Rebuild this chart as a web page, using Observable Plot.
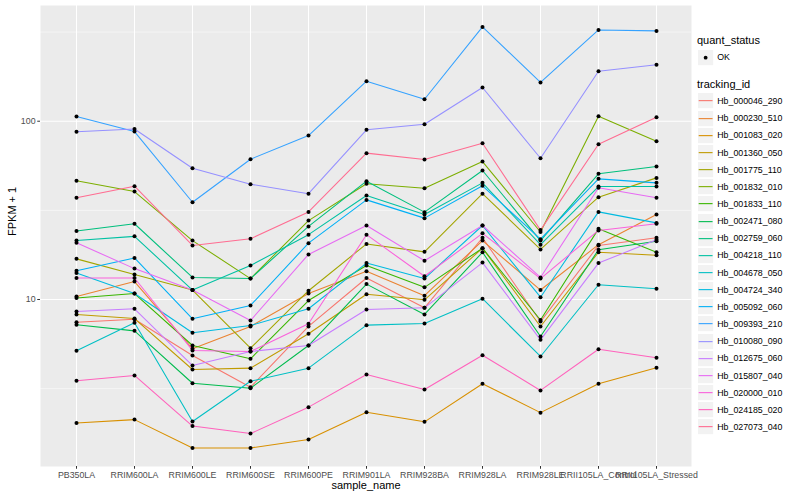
<!DOCTYPE html>
<html>
<head>
<meta charset="utf-8">
<script src="https://cdn.jsdelivr.net/npm/d3@7"></script>
<script src="https://cdn.jsdelivr.net/npm/@observablehq/plot@0.6"></script>
<style>
  body { margin: 0; background: #fff; font-family: "Liberation Sans", Arial, Helvetica, sans-serif; }
  #wrap { position: relative; width: 800px; height: 500px; overflow: hidden; }
  #legend { position: absolute; left: 0; top: 0; width: 800px; height: 500px; pointer-events: none; }
  .ltitle { position: absolute; left: 697px; font-size: 11px; line-height: 11px; color: #000; white-space: nowrap; }
  .key { position: absolute; left: 697px; height: 17.28px; display: flex; align-items: center; }
  .key svg { display: block; }
  .lab { font-size: 8.8px; margin-left: 3px; color: #000; white-space: nowrap; }
</style>
</head>
<body>
<div id="wrap"><div id="chart"></div><div id="legend"></div></div>
<script>
// ---- data (FPKM + 1 as shown on the log axis) ----
const samples = ["PB350LA", "RRIM600LA", "RRIM600LE", "RRIM600SE", "RRIM600PE", "RRIM901LA",
  "RRIM928BA", "RRIM928LA", "RRIM928LE", "RRII105LA_Control", "RRII105LA_Stressed"];

const trackingIds = ["Hb_000046_290", "Hb_000230_510", "Hb_001083_020", "Hb_001360_050", "Hb_001775_110",
  "Hb_001832_010", "Hb_001833_110", "Hb_002471_080", "Hb_002759_060", "Hb_004218_110",
  "Hb_004678_050", "Hb_004724_340", "Hb_005092_060", "Hb_009393_210", "Hb_010080_090",
  "Hb_012675_060", "Hb_015807_040", "Hb_020000_010", "Hb_024185_020", "Hb_027073_040"];

const hb_000046_290 = [7.46, 7.75, 4.85, 3.22, 7.06, 13.2, 8.98, 22.2, 7.52, 20.1, 22.2];
const hb_000230_510 = [10.4, 12.6, 5.29, 7.06, 10.8, 14.4, 10.5, 21.4, 11.3, 20.3, 30.0];
const hb_001083_020 = [2.03, 2.12, 1.47, 1.47, 1.64, 2.33, 2.06, 3.37, 2.32, 3.37, 4.14];
const hb_001360_050 = [8.24, 7.82, 4.05, 4.12, 6.42, 10.7, 9.96, 19.4, 7.06, 18.4, 17.7];
const hb_001775_110 = [16.9, 13.8, 11.3, 5.33, 11.2, 20.5, 18.5, 39.2, 19.1, 37.5, 48.1];
const hb_001832_010 = [46.3, 40.3, 21.4, 13.1, 27.7, 44.6, 42.1, 59.4, 23.9, 106.7, 77.2];
const hb_001833_110 = [10.2, 10.8, 5.52, 4.65, 9.87, 15.5, 11.7, 19.4, 7.67, 24.9, 18.4];
const hb_002471_080 = [7.21, 6.67, 3.39, 3.18, 5.52, 12.2, 8.24, 18.4, 6.20, 19.0, 21.2];
const hb_002759_060 = [24.2, 26.6, 13.3, 13.1, 25.7, 46.1, 30.9, 52.9, 21.4, 50.7, 55.7];
const hb_004218_110 = [21.4, 22.6, 11.3, 15.5, 23.1, 38.3, 30.0, 45.1, 20.3, 43.0, 43.0];
const hb_004678_050 = [5.16, 7.40, 2.07, 3.48, 4.12, 7.18, 7.33, 10.1, 4.79, 12.1, 11.5];
const hb_004724_340 = [14.1, 10.8, 6.51, 7.15, 8.87, 16.0, 13.1, 26.0, 10.3, 31.0, 26.9];
const hb_005092_060 = [14.5, 17.1, 7.79, 9.26, 20.7, 36.2, 28.6, 43.4, 21.8, 47.5, 45.1];
const hb_009393_210 = [106.3, 87.5, 35.1, 61.2, 83.1, 167.6, 132.8, 338, 165, 325, 321];
const hb_010080_090 = [87.2, 90.4, 54.5, 44.3, 39.2, 89.5, 96.2, 154.5, 62.0, 190.7, 207.2];
const hb_012675_060 = [8.56, 8.87, 4.26, 5.11, 5.52, 8.79, 8.98, 16.1, 5.94, 16.0, 21.6];
const hb_015807_040 = [20.8, 14.9, 11.3, 7.62, 17.9, 26.0, 16.5, 26.0, 13.3, 42.3, 37.2];
const hb_020000_010 = [13.2, 13.2, 5.18, 5.11, 7.31, 23.1, 13.5, 23.5, 13.1, 24.4, 26.6];
const hb_024185_020 = [3.50, 3.75, 1.95, 1.77, 2.49, 3.80, 3.13, 4.87, 3.09, 5.26, 4.71];
const hb_027073_040 = [37.2, 43.2, 20.1, 21.9, 31.0, 66.2, 61.0, 75.2, 24.5, 74.3, 105.3];

const quantStatus = ["OK"];
const yMajorTicks = [10, 100];
const yMinorTicks = [3.1623, 31.623, 316.23];

const hueColors = ["#F8766D", "#EA8331", "#D89000", "#C09B00", "#A3A500", "#7CAE00", "#39B600",
  "#00BB4E", "#00BF7D", "#00C1A3", "#00BFC4", "#00BAE0", "#00B0F6", "#35A2FF", "#9590FF",
  "#C77CFF", "#E76BF3", "#FA62DB", "#FF62BC", "#FF6C91"];

const seriesList = [hb_000046_290, hb_000230_510, hb_001083_020, hb_001360_050, hb_001775_110,
  hb_001832_010, hb_001833_110, hb_002471_080, hb_002759_060, hb_004218_110,
  hb_004678_050, hb_004724_340, hb_005092_060, hb_009393_210, hb_010080_090,
  hb_012675_060, hb_015807_040, hb_020000_010, hb_024185_020, hb_027073_040];

const rows = [];
trackingIds.forEach((id, i) => {
  seriesList[i].forEach((v, j) => rows.push({id, sample: samples[j], value: v, status: "OK"}));
});

const font = '"Liberation Sans", Arial, Helvetica, sans-serif';

const chart = Plot.plot({
  width: 800,
  height: 500,
  marginLeft: 40,
  marginRight: 109,
  marginTop: 5,
  marginBottom: 34,
  style: {fontFamily: font, background: "white", overflow: "visible"},
  x: {type: "point", domain: samples, padding: 0.6, label: null},
  y: {type: "log", domain: [1.157, 445.6], label: null},
  color: {domain: trackingIds, range: hueColors},
  marks: [
    Plot.frame({fill: "#EBEBEB", stroke: "none"}),
    Plot.gridY(yMinorTicks, {stroke: "white", strokeOpacity: 1, strokeWidth: 0.53}),
    Plot.gridY(yMajorTicks, {stroke: "white", strokeOpacity: 1, strokeWidth: 1.07}),
    Plot.gridX(samples, {stroke: "white", strokeOpacity: 1, strokeWidth: 1.07}),
    Plot.line(rows, {x: "sample", y: "value", z: "id", stroke: "id", strokeWidth: 1.07}),
    Plot.dot(rows, {x: "sample", y: "value", fill: "black", stroke: "none", r: 2}),
    Plot.axisX({tickSize: 2.75, tickPadding: 2.2, fontSize: 8.8, color: "#4D4D4D", stroke: "#333333", label: null}),
    Plot.axisY({ticks: yMajorTicks, tickFormat: d => String(d), tickSize: 2.75, tickPadding: 2.2,
      fontSize: 8.8, color: "#4D4D4D", stroke: "#333333", label: null}),
    Plot.text(["sample_name"], {text: d => d, frameAnchor: "bottom", dy: 22, fontSize: 11, fill: "black"}),
    Plot.text(["FPKM + 1"], {text: d => d, frameAnchor: "left", dx: -28, rotate: -90, fontSize: 11, fill: "black"})
  ]
});
document.getElementById("chart").appendChild(chart);

// ---- legend (HTML, right of the panel) ----
const leg = document.getElementById("legend");
const K = 17.28;
function keySvg(inner) {
  return '<svg width="' + K + '" height="' + K + '" viewBox="0 0 ' + K + ' ' + K + '">' +
    '<rect x="0.5" y="0.5" width="' + (K - 1) + '" height="' + (K - 1) + '" fill="#F2F2F2" stroke="#fff" stroke-width="1"/>' +
    inner + '</svg>';
}
function addTitle(text, top) {
  const t = document.createElement("div");
  t.className = "ltitle"; t.textContent = text; t.style.top = top + "px";
  leg.appendChild(t);
}
addTitle("quant_status", 35.2);
quantStatus.forEach((s, i) => {
  const k = document.createElement("div");
  k.className = "key"; k.style.top = (48.7 + i * K) + "px";
  k.innerHTML = keySvg('<circle cx="' + K / 2 + '" cy="' + K / 2 + '" r="1.9" fill="#000"/>') +
    '<span class="lab">' + s + '</span>';
  leg.appendChild(k);
});
addTitle("tracking_id", 78.5);
trackingIds.forEach((id, i) => {
  const k = document.createElement("div");
  k.className = "key"; k.style.top = (92.4 + i * 17.16) + "px";
  k.innerHTML = keySvg('<line x1="1.7" x2="' + (K - 1.7) + '" y1="' + K / 2 + '" y2="' + K / 2 +
    '" stroke="' + hueColors[i] + '" stroke-width="1.1"/>') + '<span class="lab">' + id + '</span>';
  leg.appendChild(k);
});
</script>
</body>
</html>
